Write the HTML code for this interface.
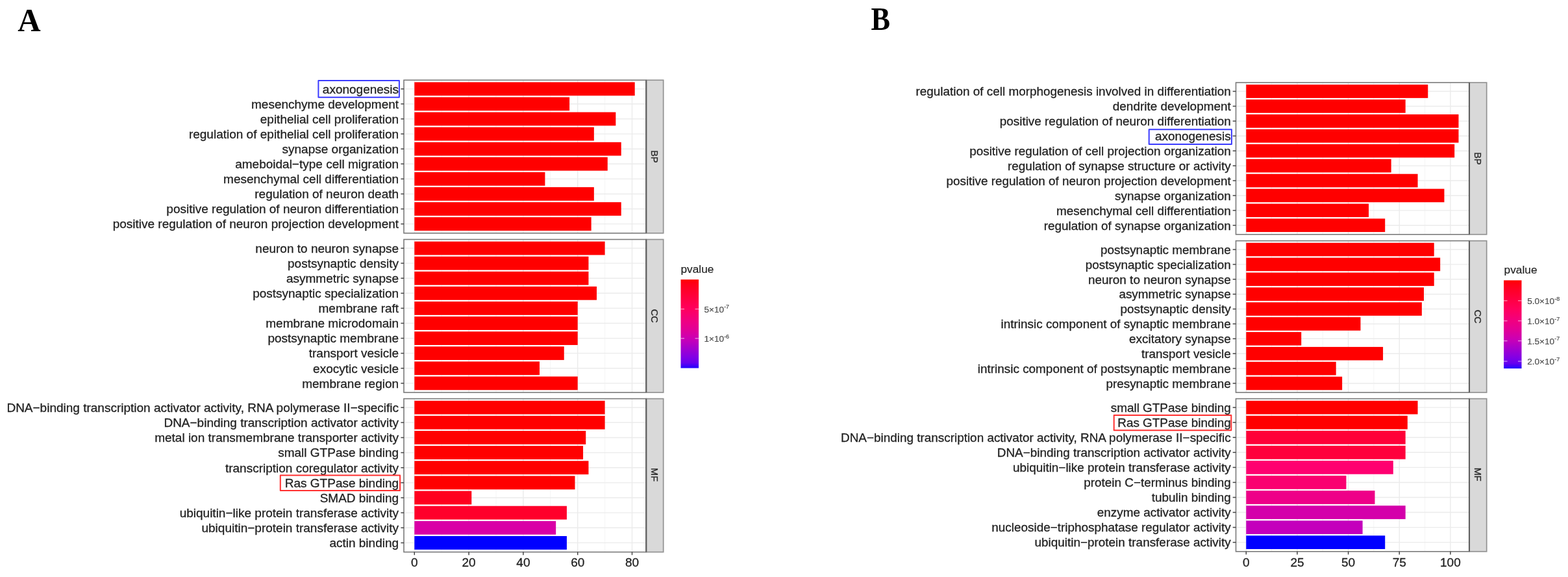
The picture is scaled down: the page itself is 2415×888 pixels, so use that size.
<!DOCTYPE html>
<html><head><meta charset="utf-8"><style>
html,body{margin:0;padding:0;background:#fff;}
svg{display:block;}
svg text{font-family:"Liberation Sans",Arial,sans-serif;font-size:19.0px;fill:#222;stroke:#222;stroke-width:0.3px;}
</style></head><body>
<svg width="2415" height="888" viewBox="0 0 2415 888">
<rect width="2415" height="888" fill="#fff"/>
<text transform="translate(27.2 47.5) scale(0.98 1)" style="font-family:'Liberation Serif',serif;font-weight:bold;font-size:50px;fill:#000;stroke:none">A</text>
<text transform="translate(1341.4 46.4) scale(0.87 1)" style="font-family:'Liberation Serif',serif;font-weight:bold;font-size:50.8px;fill:#000;stroke:none">B</text>
<rect x="622.0" y="123.3" width="373.29999999999995" height="235.5" fill="#fff"/>
<line x1="680.20" y1="123.3" x2="680.20" y2="358.8" stroke="#f2f2f2" stroke-width="0.8"/>
<line x1="764.00" y1="123.3" x2="764.00" y2="358.8" stroke="#f2f2f2" stroke-width="0.8"/>
<line x1="847.80" y1="123.3" x2="847.80" y2="358.8" stroke="#f2f2f2" stroke-width="0.8"/>
<line x1="931.60" y1="123.3" x2="931.60" y2="358.8" stroke="#f2f2f2" stroke-width="0.8"/>
<line x1="638.30" y1="123.3" x2="638.30" y2="358.8" stroke="#ebebeb" stroke-width="1.4"/>
<line x1="722.10" y1="123.3" x2="722.10" y2="358.8" stroke="#ebebeb" stroke-width="1.4"/>
<line x1="805.90" y1="123.3" x2="805.90" y2="358.8" stroke="#ebebeb" stroke-width="1.4"/>
<line x1="889.70" y1="123.3" x2="889.70" y2="358.8" stroke="#ebebeb" stroke-width="1.4"/>
<line x1="973.50" y1="123.3" x2="973.50" y2="358.8" stroke="#ebebeb" stroke-width="1.4"/>
<line x1="622.0" y1="136.85" x2="995.3" y2="136.85" stroke="#ebebeb" stroke-width="1.4"/>
<line x1="622.0" y1="159.94" x2="995.3" y2="159.94" stroke="#ebebeb" stroke-width="1.4"/>
<line x1="622.0" y1="183.03" x2="995.3" y2="183.03" stroke="#ebebeb" stroke-width="1.4"/>
<line x1="622.0" y1="206.12" x2="995.3" y2="206.12" stroke="#ebebeb" stroke-width="1.4"/>
<line x1="622.0" y1="229.21" x2="995.3" y2="229.21" stroke="#ebebeb" stroke-width="1.4"/>
<line x1="622.0" y1="252.29" x2="995.3" y2="252.29" stroke="#ebebeb" stroke-width="1.4"/>
<line x1="622.0" y1="275.38" x2="995.3" y2="275.38" stroke="#ebebeb" stroke-width="1.4"/>
<line x1="622.0" y1="298.47" x2="995.3" y2="298.47" stroke="#ebebeb" stroke-width="1.4"/>
<line x1="622.0" y1="321.56" x2="995.3" y2="321.56" stroke="#ebebeb" stroke-width="1.4"/>
<line x1="622.0" y1="344.65" x2="995.3" y2="344.65" stroke="#ebebeb" stroke-width="1.4"/>
<rect x="638.30" y="126.46" width="339.39" height="20.78" fill="#ff0000"/>
<rect x="638.30" y="149.55" width="238.83" height="20.78" fill="#ff0000"/>
<rect x="638.30" y="172.64" width="310.06" height="20.78" fill="#ff0000"/>
<rect x="638.30" y="195.73" width="276.54" height="20.78" fill="#ff0000"/>
<rect x="638.30" y="218.82" width="318.44" height="20.78" fill="#ff0000"/>
<rect x="638.30" y="241.90" width="297.49" height="20.78" fill="#ff0000"/>
<rect x="638.30" y="264.99" width="201.12" height="20.78" fill="#ff0000"/>
<rect x="638.30" y="288.08" width="276.54" height="20.78" fill="#ff0000"/>
<rect x="638.30" y="311.17" width="318.44" height="20.78" fill="#ff0000"/>
<rect x="638.30" y="334.26" width="272.35" height="20.78" fill="#ff0000"/>
<rect x="622.0" y="123.3" width="373.29999999999995" height="235.5" fill="none" stroke="#7a7a7a" stroke-width="1.6"/>
<rect x="995.3" y="123.3" width="26.40000000000009" height="235.5" fill="#d9d9d9" stroke="#929292" stroke-width="1.7"/>
<line x1="995.3" y1="123.3" x2="995.3" y2="358.8" stroke="#606060" stroke-width="2.1"/>
<text x="1008.50" y="241.05" transform="rotate(90 1008.50 241.05)" text-anchor="middle" dy="5.2" style="font-size:14.6px;fill:#2a2a2a;stroke:#2a2a2a;stroke-width:0.3px">BP</text>
<line x1="617.4" y1="136.85" x2="622.0" y2="136.85" stroke="#444" stroke-width="1.5"/>
<text x="614.1" y="143.64" text-anchor="end" style="font-size:19.0px">axonogenesis</text>
<line x1="617.4" y1="159.94" x2="622.0" y2="159.94" stroke="#444" stroke-width="1.5"/>
<text x="614.1" y="166.72" text-anchor="end" style="font-size:19.0px">mesenchyme development</text>
<line x1="617.4" y1="183.03" x2="622.0" y2="183.03" stroke="#444" stroke-width="1.5"/>
<text x="614.1" y="189.81" text-anchor="end" style="font-size:19.0px">epithelial cell proliferation</text>
<line x1="617.4" y1="206.12" x2="622.0" y2="206.12" stroke="#444" stroke-width="1.5"/>
<text x="614.1" y="212.90" text-anchor="end" style="font-size:19.0px">regulation of epithelial cell proliferation</text>
<line x1="617.4" y1="229.21" x2="622.0" y2="229.21" stroke="#444" stroke-width="1.5"/>
<text x="614.1" y="235.99" text-anchor="end" style="font-size:19.0px">synapse organization</text>
<line x1="617.4" y1="252.29" x2="622.0" y2="252.29" stroke="#444" stroke-width="1.5"/>
<text x="614.1" y="259.08" text-anchor="end" style="font-size:19.0px">ameboidal−type cell migration</text>
<line x1="617.4" y1="275.38" x2="622.0" y2="275.38" stroke="#444" stroke-width="1.5"/>
<text x="614.1" y="282.17" text-anchor="end" style="font-size:19.0px">mesenchymal cell differentiation</text>
<line x1="617.4" y1="298.47" x2="622.0" y2="298.47" stroke="#444" stroke-width="1.5"/>
<text x="614.1" y="305.25" text-anchor="end" style="font-size:19.0px">regulation of neuron death</text>
<line x1="617.4" y1="321.56" x2="622.0" y2="321.56" stroke="#444" stroke-width="1.5"/>
<text x="614.1" y="328.34" text-anchor="end" style="font-size:19.0px">positive regulation of neuron differentiation</text>
<line x1="617.4" y1="344.65" x2="622.0" y2="344.65" stroke="#444" stroke-width="1.5"/>
<text x="614.1" y="351.43" text-anchor="end" style="font-size:19.0px">positive regulation of neuron projection development</text>
<rect x="622.0" y="368.5" width="373.29999999999995" height="235.5" fill="#fff"/>
<line x1="680.20" y1="368.5" x2="680.20" y2="604.0" stroke="#f2f2f2" stroke-width="0.8"/>
<line x1="764.00" y1="368.5" x2="764.00" y2="604.0" stroke="#f2f2f2" stroke-width="0.8"/>
<line x1="847.80" y1="368.5" x2="847.80" y2="604.0" stroke="#f2f2f2" stroke-width="0.8"/>
<line x1="931.60" y1="368.5" x2="931.60" y2="604.0" stroke="#f2f2f2" stroke-width="0.8"/>
<line x1="638.30" y1="368.5" x2="638.30" y2="604.0" stroke="#ebebeb" stroke-width="1.4"/>
<line x1="722.10" y1="368.5" x2="722.10" y2="604.0" stroke="#ebebeb" stroke-width="1.4"/>
<line x1="805.90" y1="368.5" x2="805.90" y2="604.0" stroke="#ebebeb" stroke-width="1.4"/>
<line x1="889.70" y1="368.5" x2="889.70" y2="604.0" stroke="#ebebeb" stroke-width="1.4"/>
<line x1="973.50" y1="368.5" x2="973.50" y2="604.0" stroke="#ebebeb" stroke-width="1.4"/>
<line x1="622.0" y1="382.05" x2="995.3" y2="382.05" stroke="#ebebeb" stroke-width="1.4"/>
<line x1="622.0" y1="405.14" x2="995.3" y2="405.14" stroke="#ebebeb" stroke-width="1.4"/>
<line x1="622.0" y1="428.23" x2="995.3" y2="428.23" stroke="#ebebeb" stroke-width="1.4"/>
<line x1="622.0" y1="451.32" x2="995.3" y2="451.32" stroke="#ebebeb" stroke-width="1.4"/>
<line x1="622.0" y1="474.41" x2="995.3" y2="474.41" stroke="#ebebeb" stroke-width="1.4"/>
<line x1="622.0" y1="497.49" x2="995.3" y2="497.49" stroke="#ebebeb" stroke-width="1.4"/>
<line x1="622.0" y1="520.58" x2="995.3" y2="520.58" stroke="#ebebeb" stroke-width="1.4"/>
<line x1="622.0" y1="543.67" x2="995.3" y2="543.67" stroke="#ebebeb" stroke-width="1.4"/>
<line x1="622.0" y1="566.76" x2="995.3" y2="566.76" stroke="#ebebeb" stroke-width="1.4"/>
<line x1="622.0" y1="589.85" x2="995.3" y2="589.85" stroke="#ebebeb" stroke-width="1.4"/>
<rect x="638.30" y="371.66" width="293.30" height="20.78" fill="#ff0000"/>
<rect x="638.30" y="394.75" width="268.16" height="20.78" fill="#ff0000"/>
<rect x="638.30" y="417.84" width="268.16" height="20.78" fill="#ff0000"/>
<rect x="638.30" y="440.93" width="280.73" height="20.78" fill="#ff0000"/>
<rect x="638.30" y="464.02" width="251.40" height="20.78" fill="#ff0000"/>
<rect x="638.30" y="487.10" width="251.40" height="20.78" fill="#ff0000"/>
<rect x="638.30" y="510.19" width="251.40" height="20.78" fill="#ff0000"/>
<rect x="638.30" y="533.28" width="230.45" height="20.78" fill="#ff0000"/>
<rect x="638.30" y="556.37" width="192.74" height="20.78" fill="#ff0000"/>
<rect x="638.30" y="579.46" width="251.40" height="20.78" fill="#ff0000"/>
<rect x="622.0" y="368.5" width="373.29999999999995" height="235.5" fill="none" stroke="#7a7a7a" stroke-width="1.6"/>
<rect x="995.3" y="368.5" width="26.40000000000009" height="235.5" fill="#d9d9d9" stroke="#929292" stroke-width="1.7"/>
<line x1="995.3" y1="368.5" x2="995.3" y2="604.0" stroke="#606060" stroke-width="2.1"/>
<text x="1008.50" y="486.25" transform="rotate(90 1008.50 486.25)" text-anchor="middle" dy="5.2" style="font-size:14.6px;fill:#2a2a2a;stroke:#2a2a2a;stroke-width:0.3px">CC</text>
<line x1="617.4" y1="382.05" x2="622.0" y2="382.05" stroke="#444" stroke-width="1.5"/>
<text x="614.1" y="388.84" text-anchor="end" style="font-size:19.0px">neuron to neuron synapse</text>
<line x1="617.4" y1="405.14" x2="622.0" y2="405.14" stroke="#444" stroke-width="1.5"/>
<text x="614.1" y="411.92" text-anchor="end" style="font-size:19.0px">postsynaptic density</text>
<line x1="617.4" y1="428.23" x2="622.0" y2="428.23" stroke="#444" stroke-width="1.5"/>
<text x="614.1" y="435.01" text-anchor="end" style="font-size:19.0px">asymmetric synapse</text>
<line x1="617.4" y1="451.32" x2="622.0" y2="451.32" stroke="#444" stroke-width="1.5"/>
<text x="614.1" y="458.10" text-anchor="end" style="font-size:19.0px">postsynaptic specialization</text>
<line x1="617.4" y1="474.41" x2="622.0" y2="474.41" stroke="#444" stroke-width="1.5"/>
<text x="614.1" y="481.19" text-anchor="end" style="font-size:19.0px">membrane raft</text>
<line x1="617.4" y1="497.49" x2="622.0" y2="497.49" stroke="#444" stroke-width="1.5"/>
<text x="614.1" y="504.28" text-anchor="end" style="font-size:19.0px">membrane microdomain</text>
<line x1="617.4" y1="520.58" x2="622.0" y2="520.58" stroke="#444" stroke-width="1.5"/>
<text x="614.1" y="527.37" text-anchor="end" style="font-size:19.0px">postsynaptic membrane</text>
<line x1="617.4" y1="543.67" x2="622.0" y2="543.67" stroke="#444" stroke-width="1.5"/>
<text x="614.1" y="550.45" text-anchor="end" style="font-size:19.0px">transport vesicle</text>
<line x1="617.4" y1="566.76" x2="622.0" y2="566.76" stroke="#444" stroke-width="1.5"/>
<text x="614.1" y="573.54" text-anchor="end" style="font-size:19.0px">exocytic vesicle</text>
<line x1="617.4" y1="589.85" x2="622.0" y2="589.85" stroke="#444" stroke-width="1.5"/>
<text x="614.1" y="596.63" text-anchor="end" style="font-size:19.0px">membrane region</text>
<rect x="622.0" y="613.6" width="373.29999999999995" height="236.0" fill="#fff"/>
<line x1="680.20" y1="613.6" x2="680.20" y2="849.6" stroke="#f2f2f2" stroke-width="0.8"/>
<line x1="764.00" y1="613.6" x2="764.00" y2="849.6" stroke="#f2f2f2" stroke-width="0.8"/>
<line x1="847.80" y1="613.6" x2="847.80" y2="849.6" stroke="#f2f2f2" stroke-width="0.8"/>
<line x1="931.60" y1="613.6" x2="931.60" y2="849.6" stroke="#f2f2f2" stroke-width="0.8"/>
<line x1="638.30" y1="613.6" x2="638.30" y2="849.6" stroke="#ebebeb" stroke-width="1.4"/>
<line x1="722.10" y1="613.6" x2="722.10" y2="849.6" stroke="#ebebeb" stroke-width="1.4"/>
<line x1="805.90" y1="613.6" x2="805.90" y2="849.6" stroke="#ebebeb" stroke-width="1.4"/>
<line x1="889.70" y1="613.6" x2="889.70" y2="849.6" stroke="#ebebeb" stroke-width="1.4"/>
<line x1="973.50" y1="613.6" x2="973.50" y2="849.6" stroke="#ebebeb" stroke-width="1.4"/>
<line x1="622.0" y1="627.18" x2="995.3" y2="627.18" stroke="#ebebeb" stroke-width="1.4"/>
<line x1="622.0" y1="650.32" x2="995.3" y2="650.32" stroke="#ebebeb" stroke-width="1.4"/>
<line x1="622.0" y1="673.46" x2="995.3" y2="673.46" stroke="#ebebeb" stroke-width="1.4"/>
<line x1="622.0" y1="696.59" x2="995.3" y2="696.59" stroke="#ebebeb" stroke-width="1.4"/>
<line x1="622.0" y1="719.73" x2="995.3" y2="719.73" stroke="#ebebeb" stroke-width="1.4"/>
<line x1="622.0" y1="742.87" x2="995.3" y2="742.87" stroke="#ebebeb" stroke-width="1.4"/>
<line x1="622.0" y1="766.01" x2="995.3" y2="766.01" stroke="#ebebeb" stroke-width="1.4"/>
<line x1="622.0" y1="789.14" x2="995.3" y2="789.14" stroke="#ebebeb" stroke-width="1.4"/>
<line x1="622.0" y1="812.28" x2="995.3" y2="812.28" stroke="#ebebeb" stroke-width="1.4"/>
<line x1="622.0" y1="835.42" x2="995.3" y2="835.42" stroke="#ebebeb" stroke-width="1.4"/>
<rect x="638.30" y="616.77" width="293.30" height="20.82" fill="#ff0000"/>
<rect x="638.30" y="639.91" width="293.30" height="20.82" fill="#ff0000"/>
<rect x="638.30" y="663.05" width="263.97" height="20.82" fill="#ff0000"/>
<rect x="638.30" y="686.18" width="259.78" height="20.82" fill="#ff0000"/>
<rect x="638.30" y="709.32" width="268.16" height="20.82" fill="#ff0000"/>
<rect x="638.30" y="732.46" width="247.21" height="20.82" fill="#ff0000"/>
<rect x="638.30" y="755.59" width="87.99" height="20.82" fill="#ff001e"/>
<rect x="638.30" y="778.73" width="234.64" height="20.82" fill="#ff002b"/>
<rect x="638.30" y="801.87" width="217.88" height="20.82" fill="#d900a6"/>
<rect x="638.30" y="825.01" width="234.64" height="20.82" fill="#0000ff"/>
<rect x="622.0" y="613.6" width="373.29999999999995" height="236.0" fill="none" stroke="#7a7a7a" stroke-width="1.6"/>
<rect x="995.3" y="613.6" width="26.40000000000009" height="236.0" fill="#d9d9d9" stroke="#929292" stroke-width="1.7"/>
<line x1="995.3" y1="613.6" x2="995.3" y2="849.6" stroke="#606060" stroke-width="2.1"/>
<text x="1008.50" y="730.60" transform="rotate(90 1008.50 730.60)" text-anchor="middle" dy="5.2" style="font-size:14.6px;fill:#2a2a2a;stroke:#2a2a2a;stroke-width:0.3px">MF</text>
<line x1="617.4" y1="627.18" x2="622.0" y2="627.18" stroke="#444" stroke-width="1.5"/>
<text x="614.1" y="633.97" text-anchor="end" style="font-size:19.0px">DNA−binding transcription activator activity, RNA polymerase II−specific</text>
<line x1="617.4" y1="650.32" x2="622.0" y2="650.32" stroke="#444" stroke-width="1.5"/>
<text x="614.1" y="657.10" text-anchor="end" style="font-size:19.0px">DNA−binding transcription activator activity</text>
<line x1="617.4" y1="673.46" x2="622.0" y2="673.46" stroke="#444" stroke-width="1.5"/>
<text x="614.1" y="680.24" text-anchor="end" style="font-size:19.0px">metal ion transmembrane transporter activity</text>
<line x1="617.4" y1="696.59" x2="622.0" y2="696.59" stroke="#444" stroke-width="1.5"/>
<text x="614.1" y="703.38" text-anchor="end" style="font-size:19.0px">small GTPase binding</text>
<line x1="617.4" y1="719.73" x2="622.0" y2="719.73" stroke="#444" stroke-width="1.5"/>
<text x="614.1" y="726.51" text-anchor="end" style="font-size:19.0px">transcription coregulator activity</text>
<line x1="617.4" y1="742.87" x2="622.0" y2="742.87" stroke="#444" stroke-width="1.5"/>
<text x="614.1" y="749.65" text-anchor="end" style="font-size:19.0px">Ras GTPase binding</text>
<line x1="617.4" y1="766.01" x2="622.0" y2="766.01" stroke="#444" stroke-width="1.5"/>
<text x="614.1" y="772.79" text-anchor="end" style="font-size:19.0px">SMAD binding</text>
<line x1="617.4" y1="789.14" x2="622.0" y2="789.14" stroke="#444" stroke-width="1.5"/>
<text x="614.1" y="795.93" text-anchor="end" style="font-size:19.0px">ubiquitin−like protein transferase activity</text>
<line x1="617.4" y1="812.28" x2="622.0" y2="812.28" stroke="#444" stroke-width="1.5"/>
<text x="614.1" y="819.06" text-anchor="end" style="font-size:19.0px">ubiquitin−protein transferase activity</text>
<line x1="617.4" y1="835.42" x2="622.0" y2="835.42" stroke="#444" stroke-width="1.5"/>
<text x="614.1" y="842.20" text-anchor="end" style="font-size:19.0px">actin binding</text>
<line x1="638.30" y1="849.6" x2="638.30" y2="854.2" stroke="#444" stroke-width="1.5"/>
<text x="638.30" y="872.0" text-anchor="middle">0</text>
<line x1="722.10" y1="849.6" x2="722.10" y2="854.2" stroke="#444" stroke-width="1.5"/>
<text x="722.10" y="872.0" text-anchor="middle">20</text>
<line x1="805.90" y1="849.6" x2="805.90" y2="854.2" stroke="#444" stroke-width="1.5"/>
<text x="805.90" y="872.0" text-anchor="middle">40</text>
<line x1="889.70" y1="849.6" x2="889.70" y2="854.2" stroke="#444" stroke-width="1.5"/>
<text x="889.70" y="872.0" text-anchor="middle">60</text>
<line x1="973.50" y1="849.6" x2="973.50" y2="854.2" stroke="#444" stroke-width="1.5"/>
<text x="973.50" y="872.0" text-anchor="middle">80</text>
<defs><linearGradient id="g622" x1="0" y1="0" x2="0" y2="1">
<stop offset="0" stop-color="#ff0000"/>
<stop offset="0.05" stop-color="#ff0018"/>
<stop offset="0.33" stop-color="#ff005e"/>
<stop offset="0.45" stop-color="#f2007e"/>
<stop offset="0.56" stop-color="#e20096"/>
<stop offset="0.67" stop-color="#ca00b5"/>
<stop offset="0.88" stop-color="#8000e6"/>
<stop offset="0.94" stop-color="#6800ee"/>
<stop offset="1" stop-color="#2000ff"/>
</linearGradient></defs>
<rect x="1048.5" y="430.2" width="27.6" height="136.3" fill="url(#g622)"/>
<text x="1048.5" y="420.3" style="font-size:17.3px;fill:#222;stroke:#222;stroke-width:0.15px">pvalue</text>
<line x1="1048.5" y1="475.6" x2="1054.02" y2="475.6" stroke="#fff" stroke-width="1.2" opacity="0.6"/>
<line x1="1070.58" y1="475.6" x2="1076.1" y2="475.6" stroke="#fff" stroke-width="1.2" opacity="0.6"/>
<text x="1084.5" y="480.50" style="font-size:13.6px;fill:#4d4d4d;stroke:#4d4d4d;stroke-width:0.2px">5×10<tspan style="font-size:9px" dy="-5.2">-7</tspan></text>
<line x1="1048.5" y1="520.8" x2="1054.02" y2="520.8" stroke="#fff" stroke-width="1.2" opacity="0.6"/>
<line x1="1070.58" y1="520.8" x2="1076.1" y2="520.8" stroke="#fff" stroke-width="1.2" opacity="0.6"/>
<text x="1084.5" y="525.70" style="font-size:13.6px;fill:#4d4d4d;stroke:#4d4d4d;stroke-width:0.2px">1×10<tspan style="font-size:9px" dy="-5.2">-6</tspan></text>
<rect x="490.4" y="123.9" width="124.5" height="25.8" fill="none" stroke="#3b3bff" stroke-width="2" stroke-linejoin="round"/>
<rect x="431.8" y="731.5" width="184.3" height="23.6" fill="none" stroke="#ff3030" stroke-width="2" stroke-linejoin="round"/>
<rect x="1903.5" y="127.1" width="359.5" height="233.70000000000002" fill="#fff"/>
<line x1="1958.62" y1="127.1" x2="1958.62" y2="360.8" stroke="#f2f2f2" stroke-width="0.8"/>
<line x1="2037.27" y1="127.1" x2="2037.27" y2="360.8" stroke="#f2f2f2" stroke-width="0.8"/>
<line x1="2115.93" y1="127.1" x2="2115.93" y2="360.8" stroke="#f2f2f2" stroke-width="0.8"/>
<line x1="2194.57" y1="127.1" x2="2194.57" y2="360.8" stroke="#f2f2f2" stroke-width="0.8"/>
<line x1="1919.30" y1="127.1" x2="1919.30" y2="360.8" stroke="#ebebeb" stroke-width="1.4"/>
<line x1="1997.95" y1="127.1" x2="1997.95" y2="360.8" stroke="#ebebeb" stroke-width="1.4"/>
<line x1="2076.60" y1="127.1" x2="2076.60" y2="360.8" stroke="#ebebeb" stroke-width="1.4"/>
<line x1="2155.25" y1="127.1" x2="2155.25" y2="360.8" stroke="#ebebeb" stroke-width="1.4"/>
<line x1="2233.90" y1="127.1" x2="2233.90" y2="360.8" stroke="#ebebeb" stroke-width="1.4"/>
<line x1="1903.5" y1="140.55" x2="2263.0" y2="140.55" stroke="#ebebeb" stroke-width="1.4"/>
<line x1="1903.5" y1="163.46" x2="2263.0" y2="163.46" stroke="#ebebeb" stroke-width="1.4"/>
<line x1="1903.5" y1="186.37" x2="2263.0" y2="186.37" stroke="#ebebeb" stroke-width="1.4"/>
<line x1="1903.5" y1="209.28" x2="2263.0" y2="209.28" stroke="#ebebeb" stroke-width="1.4"/>
<line x1="1903.5" y1="232.19" x2="2263.0" y2="232.19" stroke="#ebebeb" stroke-width="1.4"/>
<line x1="1903.5" y1="255.11" x2="2263.0" y2="255.11" stroke="#ebebeb" stroke-width="1.4"/>
<line x1="1903.5" y1="278.02" x2="2263.0" y2="278.02" stroke="#ebebeb" stroke-width="1.4"/>
<line x1="1903.5" y1="300.93" x2="2263.0" y2="300.93" stroke="#ebebeb" stroke-width="1.4"/>
<line x1="1903.5" y1="323.84" x2="2263.0" y2="323.84" stroke="#ebebeb" stroke-width="1.4"/>
<line x1="1903.5" y1="346.75" x2="2263.0" y2="346.75" stroke="#ebebeb" stroke-width="1.4"/>
<rect x="1919.30" y="130.24" width="279.99" height="20.62" fill="#ff0000"/>
<rect x="1919.30" y="153.15" width="245.39" height="20.62" fill="#ff0000"/>
<rect x="1919.30" y="176.06" width="327.18" height="20.62" fill="#ff0000"/>
<rect x="1919.30" y="198.97" width="327.18" height="20.62" fill="#ff0000"/>
<rect x="1919.30" y="221.88" width="320.89" height="20.62" fill="#ff0000"/>
<rect x="1919.30" y="244.80" width="223.37" height="20.62" fill="#ff0000"/>
<rect x="1919.30" y="267.71" width="264.26" height="20.62" fill="#ff0000"/>
<rect x="1919.30" y="290.62" width="305.16" height="20.62" fill="#ff0000"/>
<rect x="1919.30" y="313.53" width="188.76" height="20.62" fill="#ff0000"/>
<rect x="1919.30" y="336.44" width="213.93" height="20.62" fill="#ff0000"/>
<rect x="1903.5" y="127.1" width="359.5" height="233.70000000000002" fill="none" stroke="#7a7a7a" stroke-width="1.6"/>
<rect x="2263.0" y="127.1" width="26.699999999999818" height="233.70000000000002" fill="#d9d9d9" stroke="#929292" stroke-width="1.7"/>
<line x1="2263.0" y1="127.1" x2="2263.0" y2="360.8" stroke="#606060" stroke-width="2.1"/>
<text x="2276.35" y="243.95" transform="rotate(90 2276.35 243.95)" text-anchor="middle" dy="5.2" style="font-size:14.6px;fill:#2a2a2a;stroke:#2a2a2a;stroke-width:0.3px">BP</text>
<line x1="1898.7" y1="140.55" x2="1903.5" y2="140.55" stroke="#444" stroke-width="1.5"/>
<text x="1895.7" y="147.30" text-anchor="end" style="font-size:18.92px">regulation of cell morphogenesis involved in differentiation</text>
<line x1="1898.7" y1="163.46" x2="1903.5" y2="163.46" stroke="#444" stroke-width="1.5"/>
<text x="1895.7" y="170.21" text-anchor="end" style="font-size:18.92px">dendrite development</text>
<line x1="1898.7" y1="186.37" x2="1903.5" y2="186.37" stroke="#444" stroke-width="1.5"/>
<text x="1895.7" y="193.13" text-anchor="end" style="font-size:18.92px">positive regulation of neuron differentiation</text>
<line x1="1898.7" y1="209.28" x2="1903.5" y2="209.28" stroke="#444" stroke-width="1.5"/>
<text x="1895.7" y="216.04" text-anchor="end" style="font-size:18.92px">axonogenesis</text>
<line x1="1898.7" y1="232.19" x2="1903.5" y2="232.19" stroke="#444" stroke-width="1.5"/>
<text x="1895.7" y="238.95" text-anchor="end" style="font-size:18.92px">positive regulation of cell projection organization</text>
<line x1="1898.7" y1="255.11" x2="1903.5" y2="255.11" stroke="#444" stroke-width="1.5"/>
<text x="1895.7" y="261.86" text-anchor="end" style="font-size:18.92px">regulation of synapse structure or activity</text>
<line x1="1898.7" y1="278.02" x2="1903.5" y2="278.02" stroke="#444" stroke-width="1.5"/>
<text x="1895.7" y="284.77" text-anchor="end" style="font-size:18.92px">positive regulation of neuron projection development</text>
<line x1="1898.7" y1="300.93" x2="1903.5" y2="300.93" stroke="#444" stroke-width="1.5"/>
<text x="1895.7" y="307.68" text-anchor="end" style="font-size:18.92px">synapse organization</text>
<line x1="1898.7" y1="323.84" x2="1903.5" y2="323.84" stroke="#444" stroke-width="1.5"/>
<text x="1895.7" y="330.60" text-anchor="end" style="font-size:18.92px">mesenchymal cell differentiation</text>
<line x1="1898.7" y1="346.75" x2="1903.5" y2="346.75" stroke="#444" stroke-width="1.5"/>
<text x="1895.7" y="353.51" text-anchor="end" style="font-size:18.92px">regulation of synapse organization</text>
<rect x="1903.5" y="370.6" width="359.5" height="233.39999999999998" fill="#fff"/>
<line x1="1958.62" y1="370.6" x2="1958.62" y2="604.0" stroke="#f2f2f2" stroke-width="0.8"/>
<line x1="2037.27" y1="370.6" x2="2037.27" y2="604.0" stroke="#f2f2f2" stroke-width="0.8"/>
<line x1="2115.93" y1="370.6" x2="2115.93" y2="604.0" stroke="#f2f2f2" stroke-width="0.8"/>
<line x1="2194.57" y1="370.6" x2="2194.57" y2="604.0" stroke="#f2f2f2" stroke-width="0.8"/>
<line x1="1919.30" y1="370.6" x2="1919.30" y2="604.0" stroke="#ebebeb" stroke-width="1.4"/>
<line x1="1997.95" y1="370.6" x2="1997.95" y2="604.0" stroke="#ebebeb" stroke-width="1.4"/>
<line x1="2076.60" y1="370.6" x2="2076.60" y2="604.0" stroke="#ebebeb" stroke-width="1.4"/>
<line x1="2155.25" y1="370.6" x2="2155.25" y2="604.0" stroke="#ebebeb" stroke-width="1.4"/>
<line x1="2233.90" y1="370.6" x2="2233.90" y2="604.0" stroke="#ebebeb" stroke-width="1.4"/>
<line x1="1903.5" y1="384.03" x2="2263.0" y2="384.03" stroke="#ebebeb" stroke-width="1.4"/>
<line x1="1903.5" y1="406.91" x2="2263.0" y2="406.91" stroke="#ebebeb" stroke-width="1.4"/>
<line x1="1903.5" y1="429.79" x2="2263.0" y2="429.79" stroke="#ebebeb" stroke-width="1.4"/>
<line x1="1903.5" y1="452.68" x2="2263.0" y2="452.68" stroke="#ebebeb" stroke-width="1.4"/>
<line x1="1903.5" y1="475.56" x2="2263.0" y2="475.56" stroke="#ebebeb" stroke-width="1.4"/>
<line x1="1903.5" y1="498.44" x2="2263.0" y2="498.44" stroke="#ebebeb" stroke-width="1.4"/>
<line x1="1903.5" y1="521.32" x2="2263.0" y2="521.32" stroke="#ebebeb" stroke-width="1.4"/>
<line x1="1903.5" y1="544.21" x2="2263.0" y2="544.21" stroke="#ebebeb" stroke-width="1.4"/>
<line x1="1903.5" y1="567.09" x2="2263.0" y2="567.09" stroke="#ebebeb" stroke-width="1.4"/>
<line x1="1903.5" y1="589.97" x2="2263.0" y2="589.97" stroke="#ebebeb" stroke-width="1.4"/>
<rect x="1919.30" y="373.73" width="289.43" height="20.59" fill="#ff0000"/>
<rect x="1919.30" y="396.61" width="298.87" height="20.59" fill="#ff0000"/>
<rect x="1919.30" y="419.50" width="289.43" height="20.59" fill="#ff0000"/>
<rect x="1919.30" y="442.38" width="273.70" height="20.59" fill="#ff0000"/>
<rect x="1919.30" y="465.26" width="270.56" height="20.59" fill="#ff0000"/>
<rect x="1919.30" y="488.14" width="176.18" height="20.59" fill="#ff0000"/>
<rect x="1919.30" y="511.03" width="84.94" height="20.59" fill="#ff0000"/>
<rect x="1919.30" y="533.91" width="210.78" height="20.59" fill="#ff0000"/>
<rect x="1919.30" y="556.79" width="138.42" height="20.59" fill="#ff0000"/>
<rect x="1919.30" y="579.67" width="147.86" height="20.59" fill="#ff0000"/>
<rect x="1903.5" y="370.6" width="359.5" height="233.39999999999998" fill="none" stroke="#7a7a7a" stroke-width="1.6"/>
<rect x="2263.0" y="370.6" width="26.699999999999818" height="233.39999999999998" fill="#d9d9d9" stroke="#929292" stroke-width="1.7"/>
<line x1="2263.0" y1="370.6" x2="2263.0" y2="604.0" stroke="#606060" stroke-width="2.1"/>
<text x="2276.35" y="487.30" transform="rotate(90 2276.35 487.30)" text-anchor="middle" dy="5.2" style="font-size:14.6px;fill:#2a2a2a;stroke:#2a2a2a;stroke-width:0.3px">CC</text>
<line x1="1898.7" y1="384.03" x2="1903.5" y2="384.03" stroke="#444" stroke-width="1.5"/>
<text x="1895.7" y="390.78" text-anchor="end" style="font-size:18.92px">postsynaptic membrane</text>
<line x1="1898.7" y1="406.91" x2="1903.5" y2="406.91" stroke="#444" stroke-width="1.5"/>
<text x="1895.7" y="413.67" text-anchor="end" style="font-size:18.92px">postsynaptic specialization</text>
<line x1="1898.7" y1="429.79" x2="1903.5" y2="429.79" stroke="#444" stroke-width="1.5"/>
<text x="1895.7" y="436.55" text-anchor="end" style="font-size:18.92px">neuron to neuron synapse</text>
<line x1="1898.7" y1="452.68" x2="1903.5" y2="452.68" stroke="#444" stroke-width="1.5"/>
<text x="1895.7" y="459.43" text-anchor="end" style="font-size:18.92px">asymmetric synapse</text>
<line x1="1898.7" y1="475.56" x2="1903.5" y2="475.56" stroke="#444" stroke-width="1.5"/>
<text x="1895.7" y="482.31" text-anchor="end" style="font-size:18.92px">postsynaptic density</text>
<line x1="1898.7" y1="498.44" x2="1903.5" y2="498.44" stroke="#444" stroke-width="1.5"/>
<text x="1895.7" y="505.20" text-anchor="end" style="font-size:18.92px">intrinsic component of synaptic membrane</text>
<line x1="1898.7" y1="521.32" x2="1903.5" y2="521.32" stroke="#444" stroke-width="1.5"/>
<text x="1895.7" y="528.08" text-anchor="end" style="font-size:18.92px">excitatory synapse</text>
<line x1="1898.7" y1="544.21" x2="1903.5" y2="544.21" stroke="#444" stroke-width="1.5"/>
<text x="1895.7" y="550.96" text-anchor="end" style="font-size:18.92px">transport vesicle</text>
<line x1="1898.7" y1="567.09" x2="1903.5" y2="567.09" stroke="#444" stroke-width="1.5"/>
<text x="1895.7" y="573.84" text-anchor="end" style="font-size:18.92px">intrinsic component of postsynaptic membrane</text>
<line x1="1898.7" y1="589.97" x2="1903.5" y2="589.97" stroke="#444" stroke-width="1.5"/>
<text x="1895.7" y="596.73" text-anchor="end" style="font-size:18.92px">presynaptic membrane</text>
<rect x="1903.5" y="613.6" width="359.5" height="235.19999999999993" fill="#fff"/>
<line x1="1958.62" y1="613.6" x2="1958.62" y2="848.8" stroke="#f2f2f2" stroke-width="0.8"/>
<line x1="2037.27" y1="613.6" x2="2037.27" y2="848.8" stroke="#f2f2f2" stroke-width="0.8"/>
<line x1="2115.93" y1="613.6" x2="2115.93" y2="848.8" stroke="#f2f2f2" stroke-width="0.8"/>
<line x1="2194.57" y1="613.6" x2="2194.57" y2="848.8" stroke="#f2f2f2" stroke-width="0.8"/>
<line x1="1919.30" y1="613.6" x2="1919.30" y2="848.8" stroke="#ebebeb" stroke-width="1.4"/>
<line x1="1997.95" y1="613.6" x2="1997.95" y2="848.8" stroke="#ebebeb" stroke-width="1.4"/>
<line x1="2076.60" y1="613.6" x2="2076.60" y2="848.8" stroke="#ebebeb" stroke-width="1.4"/>
<line x1="2155.25" y1="613.6" x2="2155.25" y2="848.8" stroke="#ebebeb" stroke-width="1.4"/>
<line x1="2233.90" y1="613.6" x2="2233.90" y2="848.8" stroke="#ebebeb" stroke-width="1.4"/>
<line x1="1903.5" y1="627.14" x2="2263.0" y2="627.14" stroke="#ebebeb" stroke-width="1.4"/>
<line x1="1903.5" y1="650.19" x2="2263.0" y2="650.19" stroke="#ebebeb" stroke-width="1.4"/>
<line x1="1903.5" y1="673.25" x2="2263.0" y2="673.25" stroke="#ebebeb" stroke-width="1.4"/>
<line x1="1903.5" y1="696.31" x2="2263.0" y2="696.31" stroke="#ebebeb" stroke-width="1.4"/>
<line x1="1903.5" y1="719.37" x2="2263.0" y2="719.37" stroke="#ebebeb" stroke-width="1.4"/>
<line x1="1903.5" y1="742.43" x2="2263.0" y2="742.43" stroke="#ebebeb" stroke-width="1.4"/>
<line x1="1903.5" y1="765.49" x2="2263.0" y2="765.49" stroke="#ebebeb" stroke-width="1.4"/>
<line x1="1903.5" y1="788.55" x2="2263.0" y2="788.55" stroke="#ebebeb" stroke-width="1.4"/>
<line x1="1903.5" y1="811.61" x2="2263.0" y2="811.61" stroke="#ebebeb" stroke-width="1.4"/>
<line x1="1903.5" y1="834.66" x2="2263.0" y2="834.66" stroke="#ebebeb" stroke-width="1.4"/>
<rect x="1919.30" y="616.76" width="264.26" height="20.75" fill="#ff0000"/>
<rect x="1919.30" y="639.82" width="248.53" height="20.75" fill="#ff0000"/>
<rect x="1919.30" y="662.88" width="245.39" height="20.75" fill="#ff0038"/>
<rect x="1919.30" y="685.94" width="245.39" height="20.75" fill="#ff003c"/>
<rect x="1919.30" y="708.99" width="226.51" height="20.75" fill="#ff0070"/>
<rect x="1919.30" y="732.05" width="154.15" height="20.75" fill="#fa0070"/>
<rect x="1919.30" y="755.11" width="198.20" height="20.75" fill="#ee0088"/>
<rect x="1919.30" y="778.17" width="245.39" height="20.75" fill="#d400aa"/>
<rect x="1919.30" y="801.23" width="179.32" height="20.75" fill="#c400bc"/>
<rect x="1919.30" y="824.29" width="213.93" height="20.75" fill="#0000ff"/>
<rect x="1903.5" y="613.6" width="359.5" height="235.19999999999993" fill="none" stroke="#7a7a7a" stroke-width="1.6"/>
<rect x="2263.0" y="613.6" width="26.699999999999818" height="235.19999999999993" fill="#d9d9d9" stroke="#929292" stroke-width="1.7"/>
<line x1="2263.0" y1="613.6" x2="2263.0" y2="848.8" stroke="#606060" stroke-width="2.1"/>
<text x="2276.35" y="730.20" transform="rotate(90 2276.35 730.20)" text-anchor="middle" dy="5.2" style="font-size:14.6px;fill:#2a2a2a;stroke:#2a2a2a;stroke-width:0.3px">MF</text>
<line x1="1898.7" y1="627.14" x2="1903.5" y2="627.14" stroke="#444" stroke-width="1.5"/>
<text x="1895.7" y="633.89" text-anchor="end" style="font-size:18.92px">small GTPase binding</text>
<line x1="1898.7" y1="650.19" x2="1903.5" y2="650.19" stroke="#444" stroke-width="1.5"/>
<text x="1895.7" y="656.95" text-anchor="end" style="font-size:18.92px">Ras GTPase binding</text>
<line x1="1898.7" y1="673.25" x2="1903.5" y2="673.25" stroke="#444" stroke-width="1.5"/>
<text x="1895.7" y="680.01" text-anchor="end" style="font-size:18.92px">DNA−binding transcription activator activity, RNA polymerase II−specific</text>
<line x1="1898.7" y1="696.31" x2="1903.5" y2="696.31" stroke="#444" stroke-width="1.5"/>
<text x="1895.7" y="703.07" text-anchor="end" style="font-size:18.92px">DNA−binding transcription activator activity</text>
<line x1="1898.7" y1="719.37" x2="1903.5" y2="719.37" stroke="#444" stroke-width="1.5"/>
<text x="1895.7" y="726.13" text-anchor="end" style="font-size:18.92px">ubiquitin−like protein transferase activity</text>
<line x1="1898.7" y1="742.43" x2="1903.5" y2="742.43" stroke="#444" stroke-width="1.5"/>
<text x="1895.7" y="749.18" text-anchor="end" style="font-size:18.92px">protein C−terminus binding</text>
<line x1="1898.7" y1="765.49" x2="1903.5" y2="765.49" stroke="#444" stroke-width="1.5"/>
<text x="1895.7" y="772.24" text-anchor="end" style="font-size:18.92px">tubulin binding</text>
<line x1="1898.7" y1="788.55" x2="1903.5" y2="788.55" stroke="#444" stroke-width="1.5"/>
<text x="1895.7" y="795.30" text-anchor="end" style="font-size:18.92px">enzyme activator activity</text>
<line x1="1898.7" y1="811.61" x2="1903.5" y2="811.61" stroke="#444" stroke-width="1.5"/>
<text x="1895.7" y="818.36" text-anchor="end" style="font-size:18.92px">nucleoside−triphosphatase regulator activity</text>
<line x1="1898.7" y1="834.66" x2="1903.5" y2="834.66" stroke="#444" stroke-width="1.5"/>
<text x="1895.7" y="841.42" text-anchor="end" style="font-size:18.92px">ubiquitin−protein transferase activity</text>
<line x1="1919.30" y1="848.8" x2="1919.30" y2="853.4" stroke="#444" stroke-width="1.5"/>
<text x="1919.30" y="872.0" text-anchor="middle">0</text>
<line x1="1997.95" y1="848.8" x2="1997.95" y2="853.4" stroke="#444" stroke-width="1.5"/>
<text x="1997.95" y="872.0" text-anchor="middle">25</text>
<line x1="2076.60" y1="848.8" x2="2076.60" y2="853.4" stroke="#444" stroke-width="1.5"/>
<text x="2076.60" y="872.0" text-anchor="middle">50</text>
<line x1="2155.25" y1="848.8" x2="2155.25" y2="853.4" stroke="#444" stroke-width="1.5"/>
<text x="2155.25" y="872.0" text-anchor="middle">75</text>
<line x1="2233.90" y1="848.8" x2="2233.90" y2="853.4" stroke="#444" stroke-width="1.5"/>
<text x="2233.90" y="872.0" text-anchor="middle">100</text>
<defs><linearGradient id="g1903" x1="0" y1="0" x2="0" y2="1">
<stop offset="0" stop-color="#ff0000"/>
<stop offset="0.05" stop-color="#ff0018"/>
<stop offset="0.33" stop-color="#ff005e"/>
<stop offset="0.45" stop-color="#f2007e"/>
<stop offset="0.56" stop-color="#e20096"/>
<stop offset="0.67" stop-color="#ca00b5"/>
<stop offset="0.88" stop-color="#8000e6"/>
<stop offset="0.94" stop-color="#6800ee"/>
<stop offset="1" stop-color="#2000ff"/>
</linearGradient></defs>
<rect x="2316.1" y="431.4" width="27.4" height="135.7" fill="url(#g1903)"/>
<text x="2316.6" y="420.9" style="font-size:17.3px;fill:#222;stroke:#222;stroke-width:0.15px">pvalue</text>
<line x1="2316.1" y1="462.8" x2="2321.58" y2="462.8" stroke="#fff" stroke-width="1.2" opacity="0.6"/>
<line x1="2338.02" y1="462.8" x2="2343.5" y2="462.8" stroke="#fff" stroke-width="1.2" opacity="0.6"/>
<text x="2352.2" y="467.70" style="font-size:13.6px;fill:#4d4d4d;stroke:#4d4d4d;stroke-width:0.2px">5.0×10<tspan style="font-size:9px" dy="-5.2">-8</tspan></text>
<line x1="2316.1" y1="493.8" x2="2321.58" y2="493.8" stroke="#fff" stroke-width="1.2" opacity="0.6"/>
<line x1="2338.02" y1="493.8" x2="2343.5" y2="493.8" stroke="#fff" stroke-width="1.2" opacity="0.6"/>
<text x="2352.2" y="498.70" style="font-size:13.6px;fill:#4d4d4d;stroke:#4d4d4d;stroke-width:0.2px">1.0×10<tspan style="font-size:9px" dy="-5.2">-7</tspan></text>
<line x1="2316.1" y1="524.6" x2="2321.58" y2="524.6" stroke="#fff" stroke-width="1.2" opacity="0.6"/>
<line x1="2338.02" y1="524.6" x2="2343.5" y2="524.6" stroke="#fff" stroke-width="1.2" opacity="0.6"/>
<text x="2352.2" y="529.50" style="font-size:13.6px;fill:#4d4d4d;stroke:#4d4d4d;stroke-width:0.2px">1.5×10<tspan style="font-size:9px" dy="-5.2">-7</tspan></text>
<line x1="2316.1" y1="556.0" x2="2321.58" y2="556.0" stroke="#fff" stroke-width="1.2" opacity="0.6"/>
<line x1="2338.02" y1="556.0" x2="2343.5" y2="556.0" stroke="#fff" stroke-width="1.2" opacity="0.6"/>
<text x="2352.2" y="560.90" style="font-size:13.6px;fill:#4d4d4d;stroke:#4d4d4d;stroke-width:0.2px">2.0×10<tspan style="font-size:9px" dy="-5.2">-7</tspan></text>
<rect x="1769.7" y="199.3" width="127.2" height="22.8" fill="none" stroke="#3b3bff" stroke-width="2" stroke-linejoin="round"/>
<rect x="1715.7" y="638.9" width="180.6" height="23.4" fill="none" stroke="#ff3030" stroke-width="2" stroke-linejoin="round"/>
</svg>
</body></html>
